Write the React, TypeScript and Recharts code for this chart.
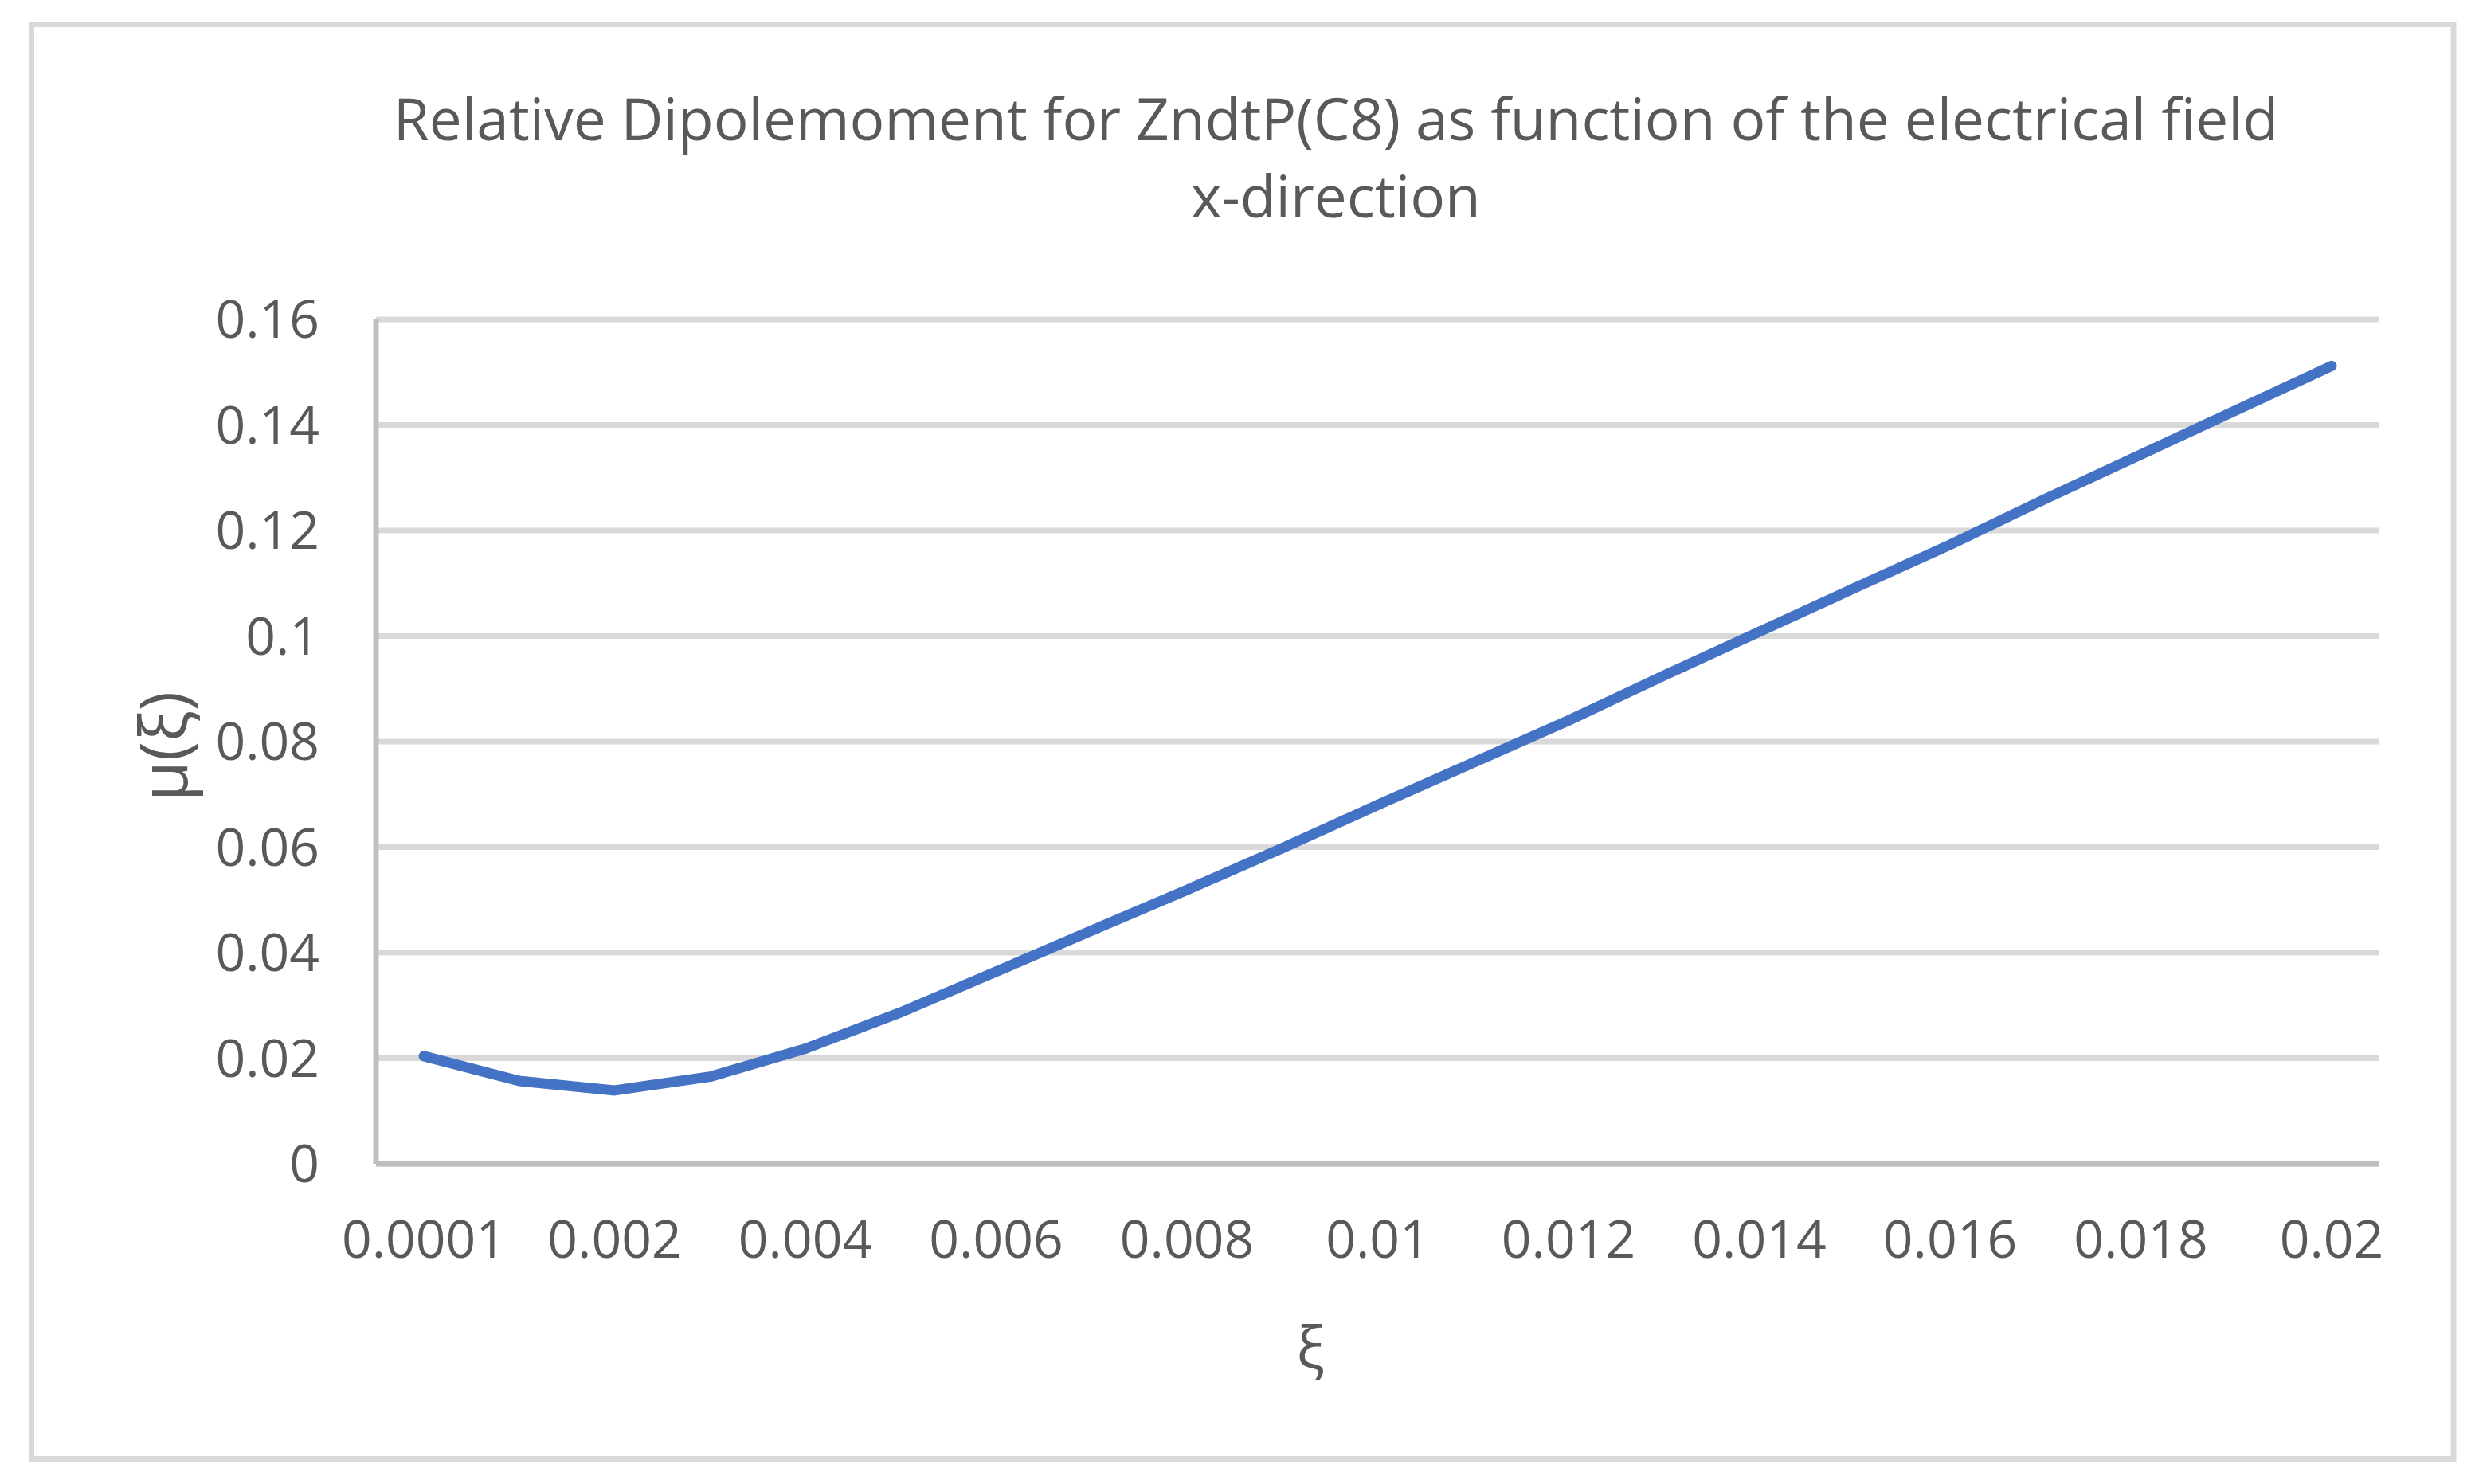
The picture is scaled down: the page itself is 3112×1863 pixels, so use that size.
import React from "react";
import { LineChart, Line, XAxis, YAxis, CartesianGrid } from "recharts";

const categories = [
  "0.0001", "0.001", "0.002", "0.003", "0.004", "0.005", "0.006", "0.007",
  "0.008", "0.009", "0.01", "0.011", "0.012", "0.013", "0.014", "0.015",
  "0.016", "0.017", "0.018", "0.019", "0.02",
];

const muValues = [
  0.0204, 0.0157, 0.0139, 0.0165, 0.0218, 0.0287, 0.0364, 0.0442, 0.0519,
  0.0598, 0.068, 0.076, 0.084, 0.0925, 0.1008, 0.1091, 0.1173, 0.126,
  0.1344, 0.1428, 0.1512,
];

const yTicks = [0, 0.02, 0.04, 0.06, 0.08, 0.1, 0.12, 0.14, 0.16];

const titleLines = [
  "Relative Dipolemoment for ZndtP(C8) as function of the electrical field",
  "x-direction",
];
const xTitle = "ξ";
const yTitle = "μ(ξ)";

const data = categories.map((c, i) => ({ xi: c, mu: muValues[i] }));

const W = 3112;
const H = 1863;
const FONT = "'Open Sans', 'Noto Sans', sans-serif";
const TEXT = "#595959";

export default function App() {
  const tickStyle = { fontFamily: FONT, fontSize: 66, fill: TEXT };
  return (
    <div
      style={{
        position: "absolute",
        left: 0,
        top: 0,
        width: W,
        height: H,
        background: "#ffffff",
      }}
    >
      <svg
        width={W}
        height={H}
        style={{ position: "absolute", left: 0, top: 0 }}
      >
        <rect
          x={39.5}
          y={30.5}
          width={3040.5}
          height={1801}
          fill="#ffffff"
          stroke="#D9D9D9"
          strokeWidth={7}
        />
        <text
          x={1677}
          y={176}
          textAnchor="middle"
          fontFamily={FONT}
          fontSize={73}
          fill={TEXT}
        >
          {titleLines[0]}
        </text>
        <text
          x={1677}
          y={273}
          textAnchor="middle"
          fontFamily={FONT}
          fontSize={73}
          fill={TEXT}
        >
          {titleLines[1]}
        </text>
        <text
          x={1645}
          y={1718}
          textAnchor="middle"
          fontFamily={FONT}
          fontSize={74}
          fill={TEXT}
        >
          {xTitle}
        </text>
        <text
          x={203}
          y={937}
          textAnchor="middle"
          dominantBaseline="central"
          transform="rotate(-90, 203, 937)"
          fontFamily={FONT}
          fontSize={82}
          fill={TEXT}
        >
          {yTitle}
        </text>
      </svg>
      <div style={{ position: "absolute", left: 0, top: 0 }}>
        <LineChart
          width={W}
          height={H}
          data={data}
          margin={{ top: 401, right: 125, bottom: 202, left: 172 }}
        >
          <CartesianGrid
            horizontal={true}
            vertical={false}
            stroke="#D9D9D9"
            strokeWidth={7}
          />
          <XAxis
            dataKey="xi"
            type="category"
            scale="point"
            padding={{ left: 60, right: 60 }}
            interval={1}
            height={200}
            tickLine={false}
            tickSize={0}
            tickMargin={71}
            axisLine={{ stroke: "#BFBFBF", strokeWidth: 7 }}
            tick={tickStyle}
          />
          <YAxis
            type="number"
            domain={[0, 0.16]}
            ticks={yTicks}
            interval={0}
            width={300}
            tickLine={false}
            tickSize={0}
            tickMargin={71}
            axisLine={{ stroke: "#BFBFBF", strokeWidth: 7 }}
            tick={tickStyle}
            tickFormatter={(v: number) => String(v)}
          />
          <Line
            type="linear"
            dataKey="mu"
            stroke="#4472C4"
            strokeWidth={13}
            strokeLinecap="round"
            strokeLinejoin="round"
            dot={false}
            activeDot={false}
            isAnimationActive={false}
          />
        </LineChart>
      </div>
    </div>
  );
}
